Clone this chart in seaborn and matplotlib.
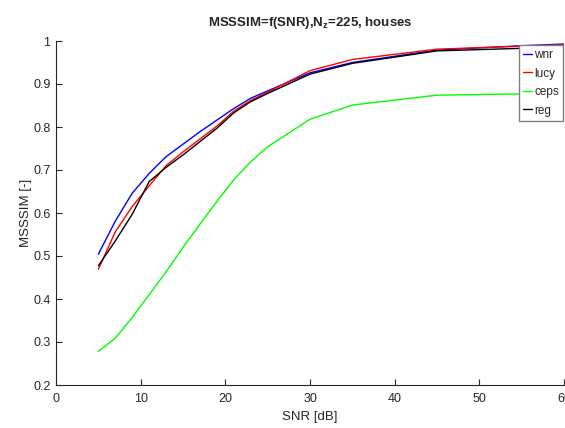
import numpy as np
import pandas as pd
import matplotlib
matplotlib.use("Agg")
import matplotlib.pyplot as plt
import seaborn as sns

snr = [5, 7, 9, 11, 13, 15, 17, 19, 21, 23, 25, 30, 35, 45, 55, 60]
wnr = [0.504, 0.581, 0.646, 0.692, 0.731, 0.760, 0.789, 0.816, 0.843, 0.867, 0.884, 0.926, 0.950, 0.979, 0.989, 0.993]
lucy = [0.469, 0.556, 0.615, 0.663, 0.710, 0.742, 0.772, 0.802, 0.837, 0.862, 0.881, 0.931, 0.957, 0.981, 0.988, 0.991]
ceps = [0.278, 0.309, 0.357, 0.410, 0.463, 0.520, 0.574, 0.627, 0.677, 0.719, 0.754, 0.818, 0.851, 0.874, 0.877, 0.878]
reg = [0.477, 0.535, 0.597, 0.673, 0.706, 0.735, 0.766, 0.797, 0.833, 0.859, 0.878, 0.923, 0.948, 0.977, 0.983, 0.987]

methods = ["wnr", "lucy", "ceps", "reg"]
colors = ["#0000ff", "#ff0000", "#00ff00", "#000000"]

df = pd.DataFrame({
    "SNR": snr * 4,
    "MSSSIM": wnr + lucy + ceps + reg,
    "method": np.repeat(methods, len(snr)),
})

sns.set_style("white")
plt.rcParams["font.family"] = ["Liberation Sans", "DejaVu Sans"]

fig = plt.figure(figsize=(5.65, 4.28), dpi=100)
ax = fig.add_axes([56 / 565, 43 / 428, 508 / 565, 344 / 428])

sns.lineplot(data=df, x="SNR", y="MSSSIM", hue="method", hue_order=methods,
             palette=colors, linewidth=1.0, ax=ax, sort=False)

ax.set_xlim(0, 60)
ax.set_ylim(0.2, 1.0)
ax.set_xticks(np.arange(0, 61, 10))
ax.set_yticks(np.round(np.arange(0.2, 1.01, 0.1), 1))
ax.set_xticklabels([str(v) for v in range(0, 61, 10)])
ax.set_yticklabels(["0.2", "0.3", "0.4", "0.5", "0.6", "0.7", "0.8", "0.9", "1"])
ax.tick_params(axis="both", direction="in", length=4, width=0.8, labelsize=9,
               colors="#262626", left=True, bottom=True)
ax.tick_params(axis="x", pad=6)
ax.tick_params(axis="y", pad=4)
for side in ["top", "right"]:
    ax.spines[side].set_visible(False)
for side in ["left", "bottom"]:
    ax.spines[side].set_color("#262626")
    ax.spines[side].set_linewidth(0.8)

ax.set_xlabel("SNR [dB]", fontsize=9.5, color="#262626", labelpad=4)
ax.set_ylabel("MSSSIM [-]", fontsize=9.5, color="#262626")
ax.yaxis.set_label_coords(-24 / 508, 0.5)
ax.set_title(r"MSSSIM=f(SNR),N$_\mathregular{z}$=225, houses", fontsize=9.5,
             fontweight="bold", pad=11)

leg = ax.legend(loc="upper right", bbox_to_anchor=(563 / 565, 1 - 45 / 428),
                bbox_transform=fig.transFigure, borderaxespad=0, fontsize=8.5,
                handlelength=0.7, handletextpad=0.2, borderpad=0.35,
                labelspacing=0.55, fancybox=False, framealpha=1,
                edgecolor="#808080", title=None)
leg.get_frame().set_linewidth(1.0)

fig.savefig("out.png", dpi=100)
